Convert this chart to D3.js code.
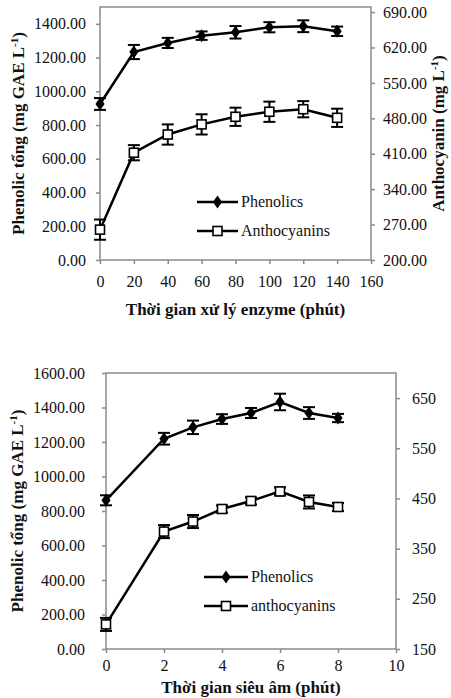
<!DOCTYPE html>
<html>
<head>
<meta charset="utf-8">
<script src="https://cdn.jsdelivr.net/npm/d3@7"></script>
<style>
    body { margin: 0; background: #fff; }
    svg, svg text { font-family: "Liberation Serif", "DejaVu Serif", "Times New Roman", serif; }
</style>
</head>
<body>
<svg id="chart" width="451" height="698"></svg>
<script>
// top chart: enzyme treatment
const enzymeTime = [0, 20, 40, 60, 80, 100, 120, 140];
const enzymePhenolics = [925, 1233, 1287, 1330, 1350, 1380, 1386, 1356];
const enzymePhenolicsErr = [35, 42, 30, 25, 37, 30, 35, 28];
const enzymeAntho = [260, 412, 448, 468, 483, 493, 498, 481];
const enzymeAnthoErr = [20, 15, 20, 20, 18, 20, 16, 18];
const enzymeXTicks = [0, 20, 40, 60, 80, 100, 120, 140, 160];
const enzymeLeftTicks = [0, 200, 400, 600, 800, 1000, 1200, 1400];
const enzymeRightTicks = [200, 270, 340, 410, 480, 550, 620, 690];

// bottom chart: ultrasound
const sonicTime = [0, 2, 3, 4, 5, 6, 7, 8];
const sonicPhenolics = [862, 1219, 1285, 1333, 1368, 1432, 1368, 1339];
const sonicPhenolicsErr = [29, 34, 39, 28, 29, 48, 34, 24];
const sonicAntho = [199, 384, 404, 429, 445, 464, 443, 433];
const sonicAnthoErr = [13, 13, 13, 7, 7, 8, 13, 8];
const sonicXTicks = [0, 2, 4, 6, 8, 10];
const sonicLeftTicks = [0, 200, 400, 600, 800, 1000, 1200, 1400, 1600];
const sonicRightTicks = [150, 250, 350, 450, 550, 650];

const svg = d3.select("#chart");
const axisColor = "#8a8a8a";
const serif = "'Liberation Serif', 'DejaVu Serif', serif";

function zip(xs, ys, es) {
    return xs.map((x, i) => ({ x: x, y: ys[i], e: es[i] }));
}

function styleAxis(g) {
    g.attr("font-family", serif);
    g.select(".domain").remove();
    g.selectAll(".tick line").attr("stroke", axisColor).attr("stroke-width", 1.5);
    g.selectAll(".tick text")
        .attr("fill", "#111")
        .attr("font-size", 16)
        .style("font-family", serif);
}

function addTitle(g, x, y, rotate, parts) {
    const t = g.append("text")
        .attr("transform", "translate(" + x + "," + y + ")" + (rotate ? " rotate(-90)" : ""))
        .attr("text-anchor", "middle")
        .attr("font-weight", "bold")
        .attr("font-size", 17)
        .style("font-family", serif)
        .attr("fill", "#111");
    parts.forEach(p => {
        const s = t.append("tspan").text(p.text);
        if (p.sup) s.attr("baseline-shift", "super").attr("font-size", 11);
    });
}

function drawChart(cfg) {
    const g = svg.append("g");
    const x = d3.scaleLinear().domain(cfg.xDomain).range([cfg.left, cfg.right]);
    const yL = d3.scaleLinear().domain(cfg.leftDomain).range([cfg.bottom, cfg.top]);
    const yR = d3.scaleLinear().domain(cfg.rightDomain).range([cfg.bottom, cfg.top]);

    // plot box
    g.append("rect")
        .attr("x", cfg.left).attr("y", cfg.top)
        .attr("width", cfg.right - cfg.left).attr("height", cfg.bottom - cfg.top)
        .attr("fill", "none").attr("stroke", axisColor).attr("stroke-width", 1.5);

    const ax = g.append("g")
        .attr("transform", "translate(0," + cfg.bottom + ")")
        .call(d3.axisBottom(x).tickValues(cfg.xTicks).tickSize(4).tickPadding(cfg.xPad).tickFormat(d3.format("d")));
    styleAxis(ax);

    const al = g.append("g")
        .attr("transform", "translate(" + cfg.left + ",0)")
        .call(d3.axisLeft(yL).tickValues(cfg.leftTicks).tickSize(4).tickPadding(cfg.leftPad).tickFormat(d3.format(".2f")));
    styleAxis(al);

    const ar = g.append("g")
        .attr("transform", "translate(" + cfg.right + ",0)")
        .call(d3.axisRight(yR).tickValues(cfg.rightTicks).tickSize(4).tickPadding(cfg.rightPad).tickFormat(d3.format(cfg.rightFmt)));
    styleAxis(ar);

    const series = [
        { data: zip(cfg.xs, cfg.phen, cfg.phenErr), y: yL, shape: "diamond" },
        { data: zip(cfg.xs, cfg.antho, cfg.anthoErr), y: yR, shape: "square" }
    ];

    const line = d3.line();
    series.forEach(s => {
        const sg = g.append("g");
        sg.append("path")
            .attr("d", line(s.data.map(d => [x(d.x), s.y(d.y)])))
            .attr("fill", "none").attr("stroke", "#000").attr("stroke-width", 2.5);

        const eb = sg.selectAll(".err").data(s.data).enter().append("g")
            .attr("stroke", "#000").attr("stroke-width", 2);
        eb.append("line")
            .attr("x1", d => x(d.x)).attr("x2", d => x(d.x))
            .attr("y1", d => s.y(d.y - d.e)).attr("y2", d => s.y(d.y + d.e));
        [-1, 1].forEach(k => {
            eb.append("line")
                .attr("x1", d => x(d.x) - 6).attr("x2", d => x(d.x) + 6)
                .attr("y1", d => s.y(d.y + k * d.e)).attr("y2", d => s.y(d.y + k * d.e));
        });

        drawMarkers(sg, s.data.map(d => [x(d.x), s.y(d.y)]), s.shape);
    });

    // legend
    const leg = g.append("g");
    cfg.legend.forEach((name, i) => {
        const ly = cfg.legendY + i * cfg.legendGap;
        leg.append("line")
            .attr("x1", cfg.legendX).attr("x2", cfg.legendX + cfg.legendLen)
            .attr("y1", ly).attr("y2", ly)
            .attr("stroke", "#000").attr("stroke-width", 2.5);
        drawMarkers(leg, [[cfg.legendX + cfg.legendLen / 2, ly]], i === 0 ? "diamond" : "square");
        leg.append("text")
            .attr("x", cfg.legendX + cfg.legendLen + 3).attr("y", ly + 5)
            .attr("font-size", 16).attr("fill", "#111")
            .style("font-family", serif)
            .text(name);
    });

    addTitle(g, (cfg.left + cfg.right) / 2, cfg.xTitleY, false, cfg.xTitle);
    addTitle(g, cfg.leftTitleX, (cfg.top + cfg.bottom) / 2, true, cfg.leftTitle);
    if (cfg.rightTitle) addTitle(g, cfg.rightTitleX, (cfg.top + cfg.bottom) / 2, true, cfg.rightTitle);
}

function drawMarkers(g, pts, shape) {
    if (shape === "diamond") {
        g.selectAll(null).data(pts).enter().append("path")
            .attr("d", d3.symbol().type(d3.symbolDiamond).size(60))
            .attr("transform", d => "translate(" + d[0] + "," + d[1] + ") scale(1.1,0.9)")
            .attr("fill", "#000");
    } else {
        g.selectAll(null).data(pts).enter().append("rect")
            .attr("x", d => d[0] - 4.5).attr("y", d => d[1] - 4.5)
            .attr("width", 9).attr("height", 9)
            .attr("fill", "#fff").attr("stroke", "#000").attr("stroke-width", 1.6);
    }
}

drawChart({
    left: 100, right: 371, top: 7, bottom: 260,
    xDomain: [0, 160], leftDomain: [0, 1500], rightDomain: [200, 700],
    xTicks: enzymeXTicks, leftTicks: enzymeLeftTicks, rightTicks: enzymeRightTicks,
    xPad: 12, leftPad: 10, rightPad: 8, rightFmt: ".2f",
    xs: enzymeTime, phen: enzymePhenolics, phenErr: enzymePhenolicsErr,
    antho: enzymeAntho, anthoErr: enzymeAnthoErr,
    legend: ["Phenolics", "Anthocyanins"], legendX: 197, legendLen: 41, legendY: 202, legendGap: 29,
    xTitle: [{ text: "Thời gian xử lý enzyme (phút)" }], xTitleY: 315,
    leftTitle: [{ text: "Phenolic tổng (mg GAE L" }, { text: "-1", sup: true }, { text: ")" }], leftTitleX: 24,
    rightTitle: [{ text: "Anthocyanin (mg L" }, { text: "-1", sup: true }, { text: ")" }], rightTitleX: 444
});

drawChart({
    left: 106, right: 396, top: 373, bottom: 649,
    xDomain: [0, 10], leftDomain: [0, 1600], rightDomain: [150, 700],
    xTicks: sonicXTicks, leftTicks: sonicLeftTicks, rightTicks: sonicRightTicks,
    xPad: 7, leftPad: 17, rightPad: 12, rightFmt: "d",
    xs: sonicTime, phen: sonicPhenolics, phenErr: sonicPhenolicsErr,
    antho: sonicAntho, anthoErr: sonicAnthoErr,
    legend: ["Phenolics", "anthocyanins"], legendX: 204, legendLen: 44, legendY: 577, legendGap: 29,
    xTitle: [{ text: "Thời gian siêu âm (phút)" }], xTitleY: 693,
    leftTitle: [{ text: "Phenolic tổng (mg GAE L" }, { text: "-1", sup: true }, { text: ")" }], leftTitleX: 23
});
</script>
</body>
</html>
